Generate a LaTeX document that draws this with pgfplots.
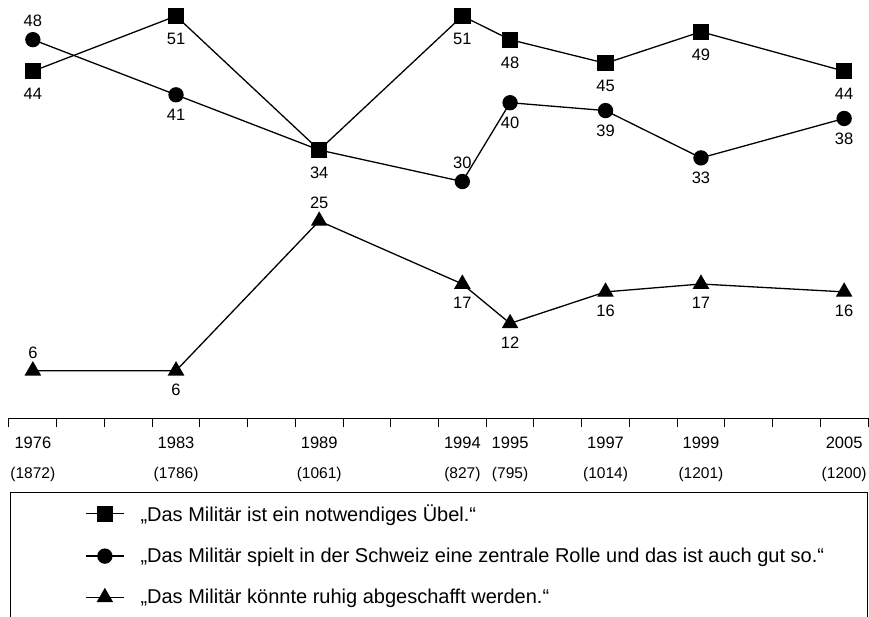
\documentclass[border=0pt]{standalone}
\usepackage{fontspec}
\setmainfont{Liberation Sans}
\usepackage{pgfplots}
\pgfplotsset{compat=1.18}

% x positions: 1976=0, 1983=3, 1989=6, 1994=9, 1995=10, 1997=12, 1999=14, 2005=17
\begin{document}
\begin{tikzpicture}[x=1pt,y=1pt]
\path[use as bounding box] (0,0) rectangle (869,-617);
\begin{axis}[
  at={(9pt,-418pt)}, anchor=south west,
  scale only axis, width=859pt, height=417.76pt,
  xmin=-0.5, xmax=17.5, ymin=0, ymax=53,
  clip=false,
  axis x line=bottom, axis y line=none,
  x axis line style={-, line width=1pt, black},
  xtick={0,3,6,9,10,12,14,17},
  xticklabels={
    {1976\\[14pt]{\fontsize{15.5}{15.5}\selectfont(1872)}},
    {1983\\[14pt]{\fontsize{15.5}{15.5}\selectfont(1786)}},
    {1989\\[14pt]{\fontsize{15.5}{15.5}\selectfont(1061)}},
    {1994\\[14pt]{\fontsize{15.5}{15.5}\selectfont(827)}},
    {1995\\[14pt]{\fontsize{15.5}{15.5}\selectfont(795)}},
    {1997\\[14pt]{\fontsize{15.5}{15.5}\selectfont(1014)}},
    {1999\\[14pt]{\fontsize{15.5}{15.5}\selectfont(1201)}},
    {2005\\[14pt]{\fontsize{15.5}{15.5}\selectfont(1200)}}},
  major tick length=0pt,
  minor xtick={-0.5,0.5,...,17.5},
  minor tick length=9pt,
  xtick align=outside,
  minor x tick style={line width=1pt, black},
  xticklabel style={align=center, inner sep=0pt, anchor=north, yshift=-18.5pt,
    font=\fontsize{16.5}{16.5}\selectfont},
  /pgf/number format/assume math mode=true,
  nodes near coords align=center,
  legend style={draw=none, fill=none, at={(0.0885,-0.202)}, anchor=north west,
    font=\fontsize{20}{20}\selectfont, row sep=21.3pt, inner sep=0pt,
    column sep=14pt},
  legend cell align=left,
  legend image code/.code={\draw[mark repeat=2,mark phase=2,#1] plot coordinates {(0pt,0pt) (19pt,0pt) (38pt,0pt)};},
  every axis plot/.append style={black, line width=1.3pt},
  lab/.style={forget plot, draw=none, mark=none, nodes near coords, point meta=y,
    every node near coord/.append style={font=\fontsize{16.5}{16.5}\selectfont, inner sep=0pt, yshift=#1}},
]
\addlegendimage{black, line width=1.3pt, mark=square*, mark size=7.5pt, mark options={solid}}
\addlegendentry{„Das Militär ist ein notwendiges Übel.“}
\addlegendimage{black, line width=1.3pt, mark=*, mark size=7pt, mark options={solid}}
\addlegendentry{„Das Militär spielt in der Schweiz eine zentrale Rolle und das ist auch gut so.“}
\addlegendimage{black, line width=1.3pt, mark=triangle*, mark size=8.3pt, mark options={solid}}
\addlegendentry{„Das Militär könnte ruhig abgeschafft werden.“}

% circle series
\addplot[forget plot, mark=*, mark size=7pt] coordinates
  {(0,48) (3,41) (6,34) (9,30) (10,40) (12,39) (14,33) (17,38)};
% square series
\addplot[forget plot, mark=square*, mark size=7.5pt] coordinates
  {(0,44) (3,51) (6,34) (9,51) (10,48) (12,45) (14,49) (17,44)};
% triangle series
\addplot[forget plot, mark=triangle*, mark size=8.3pt] coordinates
  {(0,6) (3,6) (6,25) (9,17) (10,12) (12,16) (14,17) (17,16)};

% value labels
\addplot[lab=-23pt] coordinates
  {(0,44) (3,51) (6,34) (9,51) (10,48) (12,45) (14,49) (17,44)};
\addplot[lab=19pt] coordinates {(0,48) (9,30)};
\addplot[lab=-20pt] coordinates {(3,41) (10,40) (12,39) (14,33) (17,38)};
\addplot[lab=18pt] coordinates {(0,6) (6,25)};
\addplot[lab=-19pt] coordinates {(3,6) (9,17) (10,12) (12,16) (14,17) (17,16)};
\end{axis}
\draw[line width=1pt] (10,-492) rectangle (867,-650);
\end{tikzpicture}
\end{document}
